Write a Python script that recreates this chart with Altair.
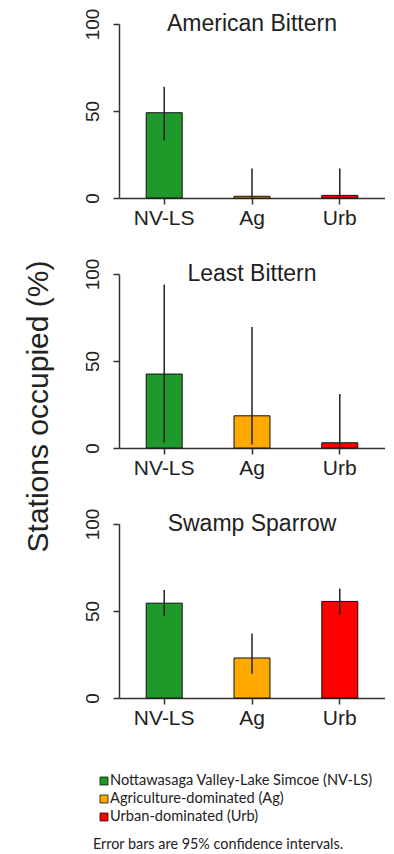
import altair as alt
import pandas as pd

species = ["American Bittern", "Least Bittern", "Swamp Sparrow"]
regions = ["NV-LS", "Ag", "Urb"]
region_names = [
    "Nottawasaga Valley-Lake Simcoe (NV-LS)",
    "Agriculture-dominated (Ag)",
    "Urban-dominated (Urb)",
]
colors = ["#1f9a2a", "#ffaa00", "#ff0000"]
footnote = "Error bars are 95% confidence intervals."
y_title = "Stations occupied (%)"

# percent of stations occupied, per species (NV-LS, Ag, Urb)
amb_pct = [49, 1, 1.5]
amb_lo = [33, 0, 0]
amb_hi = [64, 17, 17]

leb_pct = [42.5, 18.5, 3]
leb_lo = [3, 2, 0]
leb_hi = [94, 69.5, 31]

swsp_pct = [54.5, 23, 55.5]
swsp_lo = [47, 14, 48]
swsp_hi = [62, 37, 63]

pct = [amb_pct, leb_pct, swsp_pct]
lo = [amb_lo, leb_lo, swsp_lo]
hi = [amb_hi, leb_hi, swsp_hi]

FONT = "Liberation Sans"
TXT = "#222222"
LINE = "#333333"
W, H = 266, 174


def panel(i):
    df = pd.DataFrame({"region": regions, "pct": pct[i], "lo": lo[i], "hi": hi[i]})
    xscale = alt.Scale(domain=regions, paddingInner=0.59, paddingOuter=0.31)
    xaxis = alt.Axis(
        title=None, labelAngle=0, labelFont=FONT, labelFontSize=21, labelColor=TXT,
        domainColor=LINE, domainWidth=1.5, tickColor=LINE, tickWidth=1.5, tickSize=6,
        labelPadding=3, grid=False,
    )
    yargs = dict(
        values=[0, 50, 100], labelAngle=270, labelAlign="center", labelBaseline="alphabetic",
        labelFont=FONT, labelFontSize=19, labelColor=TXT, labelPadding=15,
        domainColor=LINE, domainWidth=1.5, tickColor=LINE, tickWidth=1.5, tickSize=6,
        grid=False,
    )
    if i == 1:
        yaxis = alt.Axis(
            title=y_title, titleFont=FONT, titleFontSize=30, titleFontWeight="normal",
            titleColor=TXT, titleAngle=270, titleAlign="center", titleBaseline="middle",
            titleX=-81, titleY=132, **yargs,
        )
    else:
        yaxis = alt.Axis(title=None, **yargs)
    yscale = alt.Scale(domain=[0, 100])

    bars = alt.Chart(df).mark_bar(stroke="#111111", strokeWidth=1).encode(
        x=alt.X("region:N", sort=regions, scale=xscale, axis=xaxis),
        y=alt.Y("pct:Q", scale=yscale, axis=yaxis),
        color=alt.Color("region:N", scale=alt.Scale(domain=regions, range=colors), legend=None),
    )
    err = alt.Chart(df).mark_rule(color="#222222", strokeWidth=1.5).encode(
        x=alt.X("region:N", sort=regions, scale=xscale, axis=xaxis),
        y=alt.Y("lo:Q", scale=yscale, axis=yaxis),
        y2=alt.Y2("hi:Q"),
    )
    ttl = alt.Chart(pd.DataFrame({"t": [species[i]]})).mark_text(
        font=FONT, fontSize=23, color=TXT, baseline="middle", align="center"
    ).encode(text="t:N", x=alt.value(W / 2), y=alt.value(0))
    return alt.layer(bars, err, ttl).properties(width=W, height=H)


leg_df = pd.DataFrame({"region": regions, "name": region_names})
ly = alt.Y("name:N", sort=region_names, axis=None,
           scale=alt.Scale(domain=region_names, paddingInner=0, paddingOuter=0))
squares = alt.Chart(leg_df).mark_square(
    size=64, stroke="#111111", strokeWidth=0.8, opacity=1, yOffset=-2
).encode(
    x=alt.value(-15), y=ly,
    color=alt.Color("region:N", scale=alt.Scale(domain=regions, range=colors), legend=None),
)
labels = alt.Chart(leg_df).mark_text(
    font="Lato", fontSize=14.6, color=TXT, align="left", baseline="middle", yOffset=-2
).encode(x=alt.value(-9), y=ly, text="name:N")
note = alt.Chart(pd.DataFrame({"t": [footnote]})).mark_text(
    font="Lato", fontSize=14.4, color=TXT, align="center", baseline="middle"
).encode(x=alt.value(99), y=alt.value(71), text="t:N")
legend = alt.layer(squares, labels, note).properties(width=W, height=54)

chart = alt.vconcat(panel(0), panel(1), panel(2), legend, spacing=76, bounds="flush").properties(
    padding={"left": 14, "top": 0, "right": 0, "bottom": 0},
    background="white",
).configure_view(strokeWidth=0)

chart.save("out.html", embed_options={"renderer": "svg", "actions": False})
